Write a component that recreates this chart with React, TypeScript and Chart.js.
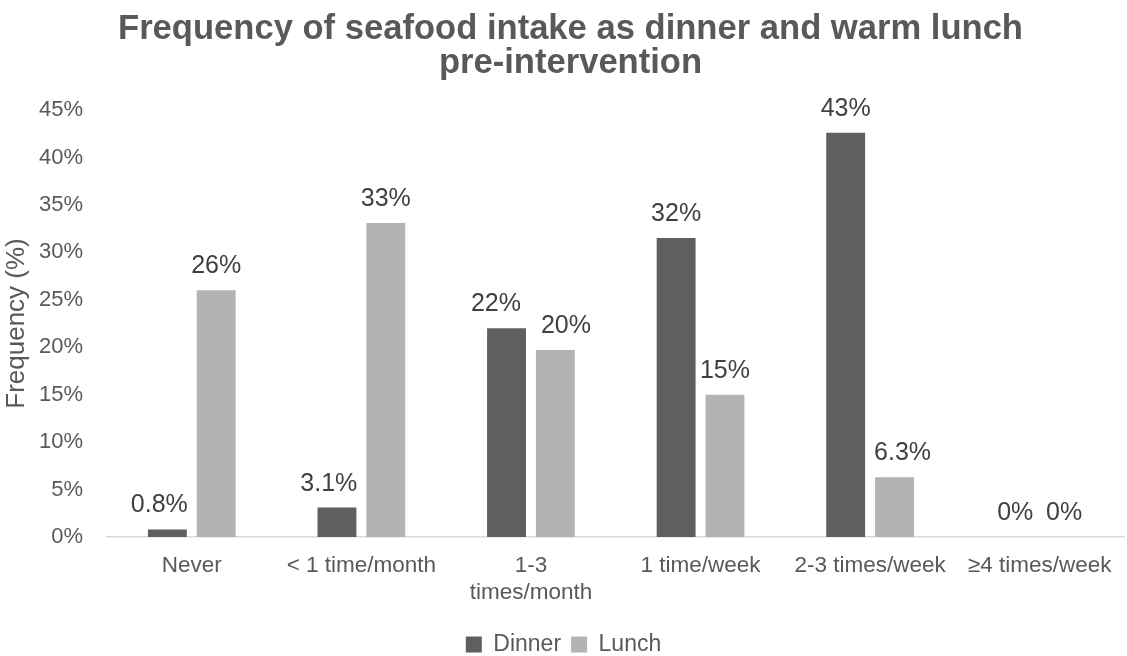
import React, { useEffect, useRef } from 'react';
import { Chart, registerables } from 'chart.js';

Chart.register(...registerables);

const titleLines = ['Frequency of seafood intake as dinner and warm lunch', 'pre-intervention'];
const categories: (string | string[])[] = [
  'Never',
  '< 1 time/month',
  ['1-3', 'times/month'],
  '1 time/week',
  '2-3 times/week',
  '≥4 times/week',
];
const dinnerValues = [0.8, 3.1, 22.0, 31.5, 42.6, 0];
const lunchValues = [26.0, 33.1, 19.7, 15.0, 6.3, 0];
const seriesNames = ['Dinner', 'Lunch'];
const yAxisTitle = 'Frequency (%)';

const FONT = '"Liberation Sans", Arial, Helvetica, sans-serif';
const TEXT = '#595959';
const LABEL_TEXT = '#404040';
const DINNER_COLOR = '#5f5f5f';
const LUNCH_COLOR = '#b3b3b3';
const LABEL_SIZE = 25;

function fmt(v: number): string {
  if (v === 0) return '0%';
  if (v < 10) return v.toFixed(1) + '%';
  return Math.round(v) + '%';
}

// Title drawn slightly right of the canvas centre, as in the reference
const titlePlugin = {
  id: 'offsetTitle',
  afterDraw(chart: any) {
    const ctx = chart.ctx as CanvasRenderingContext2D;
    ctx.save();
    ctx.font = `bold 34.6px ${FONT}`;
    ctx.fillStyle = TEXT;
    ctx.textAlign = 'center';
    ctx.textBaseline = 'alphabetic';
    const cx = chart.width / 2 + 7;
    titleLines.forEach((line, i) => ctx.fillText(line, cx, 39 + i * 34));
    ctx.restore();
  },
};

const dataLabelPlugin = {
  id: 'barValueLabels',
  afterDatasetsDraw(chart: any) {
    const ctx = chart.ctx as CanvasRenderingContext2D;
    ctx.save();
    ctx.font = `${LABEL_SIZE}px ${FONT}`;
    ctx.fillStyle = LABEL_TEXT;
    ctx.textAlign = 'center';
    ctx.textBaseline = 'alphabetic';
    const m0 = chart.getDatasetMeta(0);
    const m1 = chart.getDatasetMeta(1);
    const d0 = chart.data.datasets[0].data as number[];
    const d1 = chart.data.datasets[1].data as number[];
    const RAISE = 17;
    const CLEAR = 9;
    const GAP = 20;
    for (let j = 0; j < d0.length; j++) {
      const b0 = m0.data[j] as any;
      const b1 = m1.data[j] as any;
      const t0 = fmt(d0[j]);
      const t1 = fmt(d1[j]);
      const w0 = ctx.measureText(t0).width;
      const w1 = ctx.measureText(t1).width;
      let x0 = b0.x;
      let x1 = b1.x;
      const y0 = b0.y - RAISE;
      const y1 = b1.y - RAISE;
      const b1Left = b1.x - b1.width / 2;
      const b0Right = b0.x + b0.width / 2;
      if (y0 > b1.y && x0 + w0 / 2 > b1Left - 2) x0 = b1Left - CLEAR - w0 / 2;
      if (y1 > b0.y && x1 - w1 / 2 < b0Right + 2) x1 = b0Right + CLEAR + w1 / 2;
      if (Math.abs(y0 - y1) < LABEL_SIZE && x0 + w0 / 2 > x1 - w1 / 2) {
        const push = (x0 + w0 / 2 + GAP - (x1 - w1 / 2)) / 2;
        x0 -= push;
        x1 += push;
      }
      ctx.fillText(t0, x0, y0);
      ctx.fillText(t1, x1, y1);
    }
    ctx.restore();
  },
};

export default function App() {
  const canvasRef = useRef<HTMLCanvasElement | null>(null);

  useEffect(() => {
    document.body.style.margin = '0';
    const canvas = canvasRef.current;
    if (!canvas) return;
    Chart.defaults.font.family = FONT;
    const chart = new Chart(canvas, {
      type: 'bar',
      data: {
        labels: categories as any,
        datasets: [
          {
            label: seriesNames[0],
            data: dinnerValues,
            backgroundColor: DINNER_COLOR,
            categoryPercentage: 0.576,
            barPercentage: 0.796,
          },
          {
            label: seriesNames[1],
            data: lunchValues,
            backgroundColor: LUNCH_COLOR,
            categoryPercentage: 0.576,
            barPercentage: 0.796,
          },
        ],
      },
      options: {
        responsive: false,
        animation: false,
        maintainAspectRatio: false,
        layout: { padding: { left: 0, right: 0, top: 110, bottom: -10 } },
        plugins: {
          title: { display: false },
          legend: {
            display: true,
            position: 'bottom',
            labels: {
              color: TEXT,
              font: { size: 23, family: FONT },
              boxWidth: 16,
              boxHeight: 16,
              padding: 10,
            },
          },
          tooltip: { enabled: false },
        },
        scales: {
          x: {
            grid: { display: false, drawTicks: false },
            border: { display: true, color: '#d9d9d9', width: 1.5 },
            ticks: {
              color: TEXT,
              font: { size: 22.5, family: FONT, lineHeight: 1.2 },
              padding: 15.5,
              maxRotation: 0,
              autoSkip: false,
            },
            afterFit(scale: any) {
              scale.height = 86;
            },
          },
          y: {
            min: 0,
            max: 45,
            grid: { display: false, drawTicks: false },
            border: { display: false },
            ticks: {
              stepSize: 5,
              color: TEXT,
              font: { size: 22, family: FONT },
              padding: 24,
              callback: (v: any) => v + '%',
            },
            title: {
              display: true,
              text: yAxisTitle,
              color: TEXT,
              font: { size: 26, family: FONT },
              padding: { top: 1, bottom: 0 },
            },
            afterFit(scale: any) {
              scale.width = 107;
            },
          },
        },
      },
      plugins: [dataLabelPlugin, titlePlugin],
    });
    return () => chart.destroy();
  }, []);

  return (
    <div style={{ position: 'absolute', left: 0, top: 0, width: 1127, height: 656, background: '#fff' }}>
      <canvas ref={canvasRef} width={1127} height={656} style={{ width: 1127, height: 656, display: 'block' }} />
    </div>
  );
}
